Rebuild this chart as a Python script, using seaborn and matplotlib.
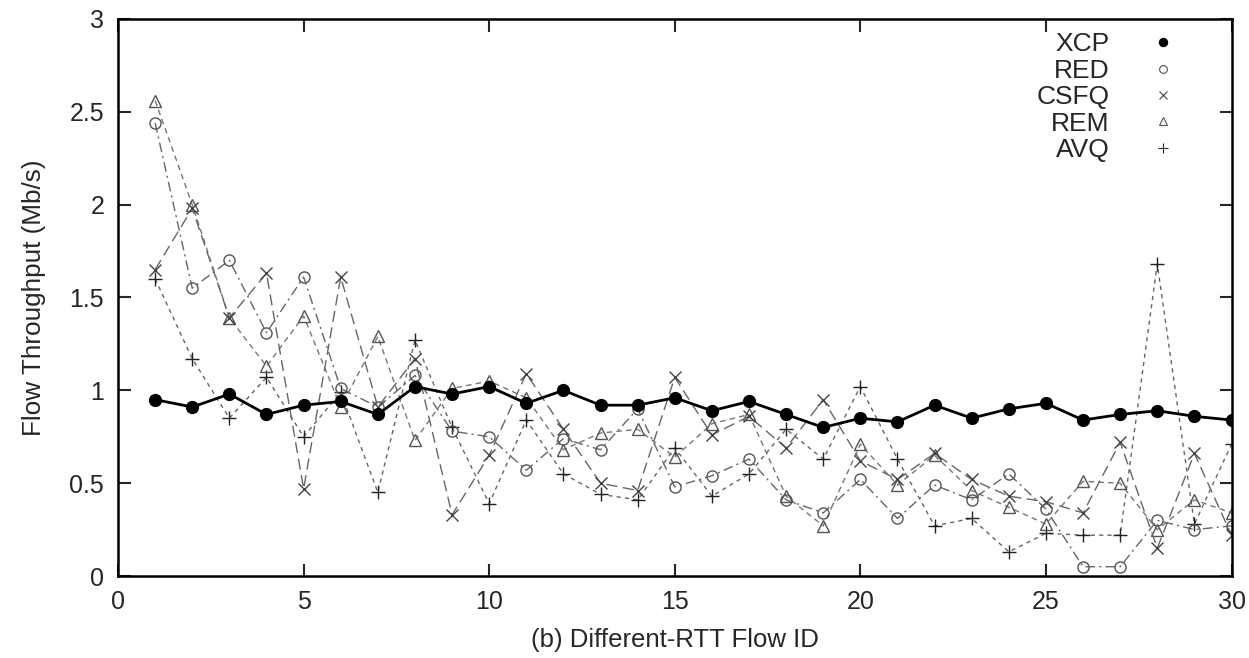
import numpy as np
import pandas as pd
import matplotlib
matplotlib.use('Agg')
import matplotlib.pyplot as plt
from matplotlib.lines import Line2D
import seaborn as sns

# Flow IDs and per-scheme throughput (Mb/s)
flow_id = list(range(1, 31))
xcp = [0.95, 0.91, 0.98, 0.87, 0.92, 0.94, 0.87, 1.02, 0.98, 1.02,
       0.93, 1.00, 0.92, 0.92, 0.96, 0.89, 0.94, 0.87, 0.80, 0.85,
       0.83, 0.92, 0.85, 0.90, 0.93, 0.84, 0.87, 0.89, 0.86, 0.84]
red = [2.44, 1.55, 1.70, 1.31, 1.61, 1.01, 0.91, 1.08, 0.78, 0.75,
       0.57, 0.74, 0.68, 0.90, 0.48, 0.54, 0.63, 0.41, 0.34, 0.52,
       0.31, 0.49, 0.41, 0.55, 0.36, 0.05, 0.05, 0.30, 0.25, 0.27]
csfq = [1.65, 1.98, 1.39, 1.63, 0.47, 1.61, 0.91, 1.17, 0.33, 0.65,
        1.09, 0.79, 0.50, 0.46, 1.07, 0.76, 0.86, 0.69, 0.95, 0.62,
        0.52, 0.66, 0.52, 0.43, 0.40, 0.34, 0.72, 0.15, 0.66, 0.22]
rem = [2.56, 2.00, 1.39, 1.13, 1.40, 0.91, 1.29, 0.73, 1.01, 1.05,
       0.96, 0.68, 0.77, 0.79, 0.64, 0.82, 0.87, 0.43, 0.27, 0.71,
       0.49, 0.65, 0.46, 0.37, 0.28, 0.51, 0.50, 0.25, 0.41, 0.34]
avq = [1.60, 1.17, 0.85, 1.07, 0.75, 0.99, 0.45, 1.27, 0.80, 0.39,
       0.84, 0.55, 0.44, 0.41, 0.69, 0.43, 0.55, 0.79, 0.63, 1.02,
       0.63, 0.27, 0.31, 0.13, 0.23, 0.22, 0.22, 1.68, 0.28, 0.71]

sns.set_style('ticks')
plt.rcParams['font.family'] = ['Liberation Sans', 'DejaVu Sans']

fig = plt.figure(figsize=(12.49, 6.58), dpi=100)
ax = fig.add_axes([0.0945, 0.1246, 0.8915, 0.8466])

# name, values, line color, marker color, marker, face, linestyle, lw, ms
series = [
    ('XCP', xcp, 'black', 'black', 'o', 'black', '-', 2.0, 8.5),
    ('RED', red, '#666666', '#555555', 'o', 'none', (0, (7, 3, 1.5, 3)), 1.0, 8),
    ('CSFQ', csfq, '#666666', '#444444', 'x', '#444444', (0, (8, 4)), 1.0, 9),
    ('REM', rem, '#777777', '#555555', '^', 'none', (0, (4, 3)), 1.0, 8),
    ('AVQ', avq, '#666666', '#222222', '+', '#222222', (0, (3, 3)), 1.0, 10),
]

for name, vals, col, mcol, mk, mfc, ls, lw, ms in series[::-1]:
    df = pd.DataFrame({'flow': flow_id, 'tp': vals})
    sns.lineplot(data=df, x='flow', y='tp', ax=ax, color=col, linestyle=ls,
                 linewidth=lw, marker=mk, markersize=ms, markerfacecolor=mfc,
                 markeredgecolor=mcol, markeredgewidth=1.0, legend=False)

handles = []
for name, vals, col, mcol, mk, mfc, ls, lw, ms in series:
    handles.append(Line2D([], [], linestyle='none', marker=mk,
                          markersize=ms * 0.7, markerfacecolor=mfc,
                          markeredgecolor=mcol, markeredgewidth=0.8,
                          label=name))

ax.set_xlim(0, 30)
ax.set_ylim(0, 3)
ax.set_xticks(np.arange(0, 31, 5))
ax.set_yticks([0, 0.5, 1, 1.5, 2, 2.5, 3])
ax.set_yticklabels(['0', '0.5', '1', '1.5', '2', '2.5', '3'])
ax.tick_params(direction='in', length=9, width=1.5, labelsize=18,
               top=True, right=True, pad=10)
for sp in ax.spines.values():
    sp.set_linewidth(1.8)
    sp.set_color('black')

ax.set_xlabel('(b) Different-RTT Flow ID', fontsize=18.5, labelpad=10)
ax.set_ylabel('Flow Throughput (Mb/s)', fontsize=18.8, labelpad=17)

leg = ax.legend(handles=handles, loc='upper right', frameon=False,
                markerfirst=False, fontsize=19, handlelength=1.2,
                handletextpad=1.42, labelspacing=0.09, borderpad=0,
                bbox_to_anchor=(0.9645, 0.9995))
for t in leg.get_texts():
    t.set_ha('right')

fig.savefig('out.png', dpi=100)
